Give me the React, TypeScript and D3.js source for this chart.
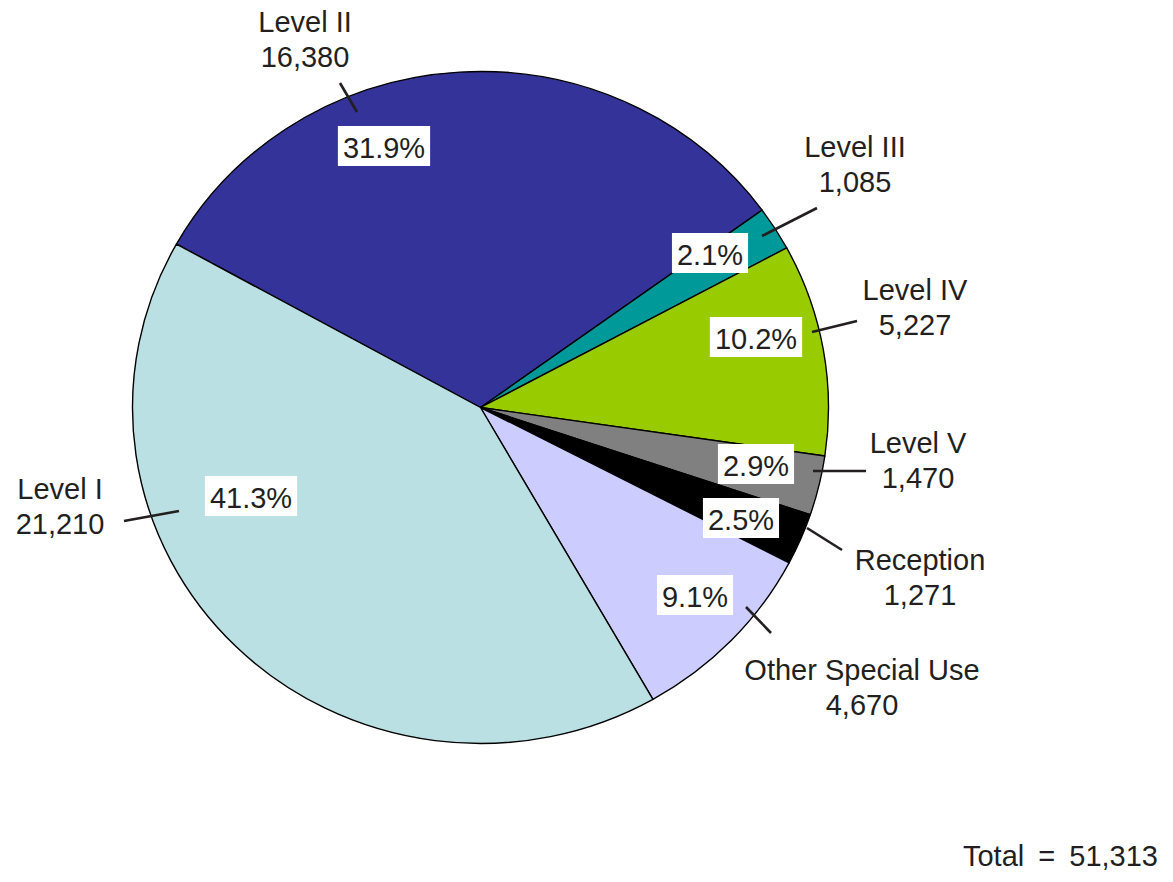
import React, { useEffect, useRef } from 'react';
import * as d3 from 'd3';

// slices, clockwise from the Level I / Level II boundary
const categories = ['Level II', 'Level III', 'Level IV', 'Level V', 'Reception', 'Other Special Use', 'Level I'];
const values = [16380, 1085, 5227, 1470, 1271, 4670, 21210];
const colors = ['#333399', '#009999', '#99cc00', '#808080', '#000000', '#ccccff', '#bbe0e3'];

// label placement (annotation layout only)
const nameAnchors: [number, number][] = [[305, 32], [855, 157], [915, 300], [918, 453], [920, 570], [862, 680], [60, 499]];
const leaders: [number, number, number, number][] = [
  [357, 112, 340, 83], [762, 236, 817, 208], [812, 332, 857, 321], [813, 471, 866, 471],
  [807, 528, 842, 550], [771, 633, 746, 607], [179, 511, 124, 521],
];
const pctCenters: [number, number][] = [[384, 146], [710, 253], [756, 337], [756, 464], [741, 518], [695, 595], [251, 496]];

const W = 1173;
const H = 882;
const cx = 480.5;
const cy = 407.5;
const rx = 348;
const ry = 336;
const startDeg = -60.9;
const FONT = '"Liberation Sans", Arial, sans-serif';
const FS = 29;
const INK = '#231f20';

const App = () => {
  const ref = useRef<SVGSVGElement>(null);

  useEffect(() => {
    const svg = d3.select(ref.current);
    svg.selectAll('*').remove();
    const total = d3.sum(values);
    const data = categories.map((c, i) => ({ name: c, value: values[i], color: colors[i], i }));

    const start = (startDeg * Math.PI) / 180;
    const pie = d3.pie<any>().sort(null).value(d => d.value).startAngle(start).endAngle(start + 2 * Math.PI);
    const arc = d3.arc<any>().innerRadius(0).outerRadius(rx);

    const g = svg.append('g').attr('transform', `translate(${cx},${cy}) scale(1,${ry / rx})`);
    g.selectAll('path')
      .data(pie(data))
      .enter()
      .append('path')
      .attr('d', arc)
      .attr('fill', d => d.data.color)
      .attr('stroke', '#000')
      .attr('stroke-width', 1.4)
      .attr('stroke-linejoin', 'round')
      .attr('vector-effect', 'non-scaling-stroke');

    // leader lines
    svg.selectAll('.leader')
      .data(data)
      .enter()
      .append('line')
      .attr('class', 'leader')
      .attr('x1', d => leaders[d.i][0])
      .attr('y1', d => leaders[d.i][1])
      .attr('x2', d => leaders[d.i][2])
      .attr('y2', d => leaders[d.i][3])
      .attr('stroke', INK)
      .attr('stroke-width', 2.6);

    // category name + value
    const names = svg.selectAll('.name')
      .data(data)
      .enter()
      .append('text')
      .attr('class', 'name')
      .attr('text-anchor', 'middle')
      .attr('font-family', FONT)
      .attr('font-size', FS)
      .attr('fill', INK);
    names.append('tspan')
      .attr('x', d => nameAnchors[d.i][0])
      .attr('y', d => nameAnchors[d.i][1])
      .text(d => d.name);
    names.append('tspan')
      .attr('x', d => nameAnchors[d.i][0])
      .attr('y', d => nameAnchors[d.i][1] + 35)
      .text(d => d3.format(',')(d.value));

    // percentage labels in white boxes
    const pct = svg.selectAll('.pct')
      .data(data)
      .enter()
      .append('g')
      .attr('class', 'pct')
      .attr('transform', d => `translate(${pctCenters[d.i][0]},${pctCenters[d.i][1]})`);
    const rects = pct.append('rect').attr('fill', '#fff');
    const labels = pct.append('text')
      .attr('text-anchor', 'middle')
      .attr('y', 12)
      .attr('font-family', FONT)
      .attr('font-size', FS)
      .attr('fill', INK)
      .text(d => d3.format('.1%')(d.value / total));
    labels.each(function (d: any) {
      const w = (this as SVGTextElement).getComputedTextLength() + 10;
      rects.filter((r: any) => r.i === d.i)
        .attr('x', -w / 2)
        .attr('y', -20)
        .attr('width', w)
        .attr('height', 40);
    });

    svg.append('text')
      .attr('x', 1158)
      .attr('y', 866)
      .attr('text-anchor', 'end')
      .attr('font-family', FONT)
      .attr('font-size', FS)
      .attr('word-spacing', 6)
      .attr('fill', INK)
      .text(`Total = ${d3.format(',')(total)}`);
  }, []);

  return (
    <svg
      ref={ref}
      width={W}
      height={H}
      style={{ position: 'absolute', left: 0, top: 0, background: '#fff' }}
    ></svg>
  );
};

export default App;
